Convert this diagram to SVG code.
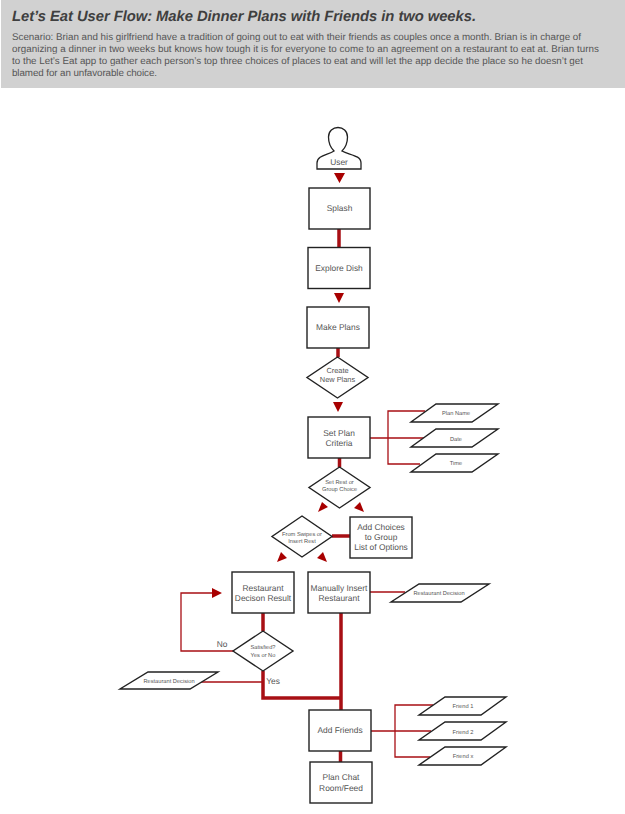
<svg xmlns="http://www.w3.org/2000/svg" width="625" height="814" viewBox="0 0 625 814">
<style>
text{font-family:"Liberation Sans",Arial,sans-serif;fill:#555;text-anchor:middle;text-rendering:geometricPrecision}
.t{text-anchor:start}
.s{fill:#fff;stroke:#222;stroke-width:1.4}
.l{fill:none;stroke:#a80f14}
.th{stroke-width:3.5}
.tn{stroke-width:1.3}
.a{fill:#a80000}
.f9{font-size:8.4px}
.f7{font-size:7.4px}
.f5{font-size:5.7px}
</style>
<rect x="1" y="0" width="624" height="88" fill="#d1d1d1"/>
<text class="t" x="12" y="20.500" font-size="14.800" font-weight="bold" font-style="italic" textLength="464" style="fill:#3f3f3f">Let’s Eat User Flow: Make Dinner Plans with Friends in two weeks.</text>
<g font-size="9.800">
<text class="t" x="12" y="39.500" textLength="569">Scenario: Brian and his girlfriend have a tradition of going out to eat with their friends as couples once a month. Brian is in charge of</text>
<text class="t" x="12" y="51.500" textLength="587">organizing a dinner in two weeks but knows how tough it is for everyone to come to an agreement on a restaurant to eat at. Brian turns</text>
<text class="t" x="12" y="63.500" textLength="571">to the Let’s Eat app to gather each person’s top three choices of places to eat and will let the app decide the place so he doesn’t get</text>
<text class="t" x="12" y="75.500" textLength="145">blamed for an unfavorable choice.</text>
</g>
<g id="connectors">
<path class="l th" d="M339 229V247M338 348V357M339.500 458V467M332 536H350M263 613V631M263 671V698H341M341 613V710M340.500 751V762"/>
<path class="l tn" d="M425 411H388V464H420M370 438H425M405 592H370M233 651H181V593H213M201 682H263M433 705H395V757H430M371 731H431"/>
<path class="a" d="M334 173H345L339.500 183ZM334 293H344L339 303ZM333 402H343L338 412ZM322 502L328 507L318 512ZM360 502L354 508L364 512ZM281 552L287 558L277 562ZM323 552L317 558L327 562ZM212 588L222 593L212 598Z"/>
</g>
<g id="user"><path fill="#fff" stroke="#222" stroke-width="1.300" d="M317 169V163C317 155 328 155 334 151C331 148 328.500 143 328.500 137C328.500 131 333 127.500 338 127.500C343 127.500 347.500 131 347.500 137C347.500 143 345 148 342 151C349 155 361 155 361 163V169Z"/><text class="f9" x="339" y="165">User</text></g>
<g id="splash"><rect class="s" x="309" y="188" width="61" height="41"/><text class="f9" x="339.500" y="211">Splash</text></g>
<g id="explore"><rect class="s" x="308" y="247.500" width="62" height="41"/><text class="f9" x="339" y="271">Explore Dish</text></g>
<g id="make-plans"><rect class="s" x="307" y="307" width="62" height="41"/><text class="f9" x="338" y="330">Make Plans</text></g>
<g id="create"><path class="s" d="M337.500 357L368 377.500L337.500 398L307 377.500Z"/><text class="f7" x="337.500" y="373">Create</text><text class="f7" x="337.500" y="382">New Plans</text></g>
<g id="criteria"><rect class="s" x="308" y="417" width="62" height="41"/><text class="f9" x="339" y="436">Set Plan</text><text class="f9" x="339" y="446">Criteria</text></g>
<g id="plan-name"><path class="s" d="M436 404H498L472 422H411Z"/><text class="f5" x="456" y="415">Plan Name</text></g>
<g id="date"><path class="s" d="M436 429H498L472 447H411Z"/><text class="f5" x="456" y="441">Date</text></g>
<g id="time"><path class="s" d="M436 454H498L472 472H411Z"/><text class="f5" x="456" y="465">Time</text></g>
<g id="rest-or-group"><path class="s" d="M339.500 467L370 487.500L339.500 508L309 487.500Z"/><text class="f5" x="339.500" y="484">Set Rest or</text><text class="f5" x="339.500" y="491">Group Choice</text></g>
<g id="swipe"><path class="s" d="M302 516L332 536.500L302 557L272 536.500Z"/><text class="f5" x="302" y="536">From Swipes or</text><text class="f5" x="302" y="543">Insert Rest</text></g>
<g id="add-choices"><rect class="s" x="350" y="517" width="62" height="41"/><text class="f9" x="381" y="530">Add Choices</text><text class="f9" x="381" y="540">to Group</text><text class="f9" x="381" y="550">List of Options</text></g>
<g id="result"><rect class="s" x="232" y="572" width="62" height="41"/><text class="f9" x="263" y="591">Restaurant</text><text class="f9" x="263" y="601">Decison Result</text></g>
<g id="manual"><rect class="s" x="308" y="572" width="62" height="41"/><text class="f9" x="339" y="591">Manually Insert</text><text class="f9" x="339" y="601">Restaurant</text></g>
<g id="decision-1"><path class="s" d="M419 584H489L461 602H391Z"/><text class="f5" x="439" y="595">Restaurant Decision</text></g>
<g id="satisfied"><path class="s" d="M263 631L293 651L263 671L233 651Z"/><text class="f5" x="263" y="649">Satisfied?</text><text class="f5" x="263" y="657">Yes or No</text></g>
<text class="f9" x="222" y="647">No</text>
<text class="f9" x="273" y="684">Yes</text>
<g id="decision-2"><path class="s" d="M148 672H218L190 689H120Z"/><text class="f5" x="169" y="683">Restaurant Decision</text></g>
<g id="add-friends"><rect class="s" x="309" y="710" width="62" height="41"/><text class="f9" x="340" y="733">Add Friends</text></g>
<g id="chat"><rect class="s" x="310" y="762" width="62" height="41"/><text class="f9" x="341" y="780">Plan Chat</text><text class="f9" x="341" y="791">Room/Feed</text></g>
<g id="friend-1"><path class="s" d="M445 697H506L481 715H419Z"/><text class="f5" x="463" y="708">Friend 1</text></g>
<g id="friend-2"><path class="s" d="M445 722H506L481 740H419Z"/><text class="f5" x="463" y="734">Friend 2</text></g>
<g id="friend-x"><path class="s" d="M445 747H506L481 765H419Z"/><text class="f5" x="463" y="758">Friend x</text></g>
</svg>
